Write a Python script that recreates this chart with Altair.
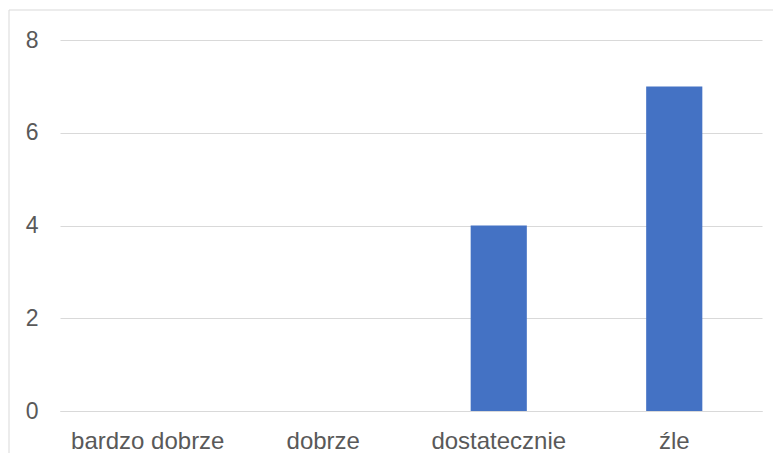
import altair as alt
import pandas as pd

categories = ["bardzo dobrze", "dobrze", "dostatecznie", "źle"]
values = [0, 0, 4, 7]
y_ticks = [0, 2, 4, 6, 8]

df = pd.DataFrame({"kategoria": categories, "wartosc": values})

FONT = "Liberation Sans"
TXT = "#595959"
GRID = "#d9d9d9"

bars = alt.Chart(df).mark_bar(color="#4472c4").encode(
    x=alt.X(
        "kategoria:N",
        sort=categories,
        scale=alt.Scale(paddingInner=0.68, paddingOuter=0.34),
        axis=alt.Axis(
            title=None, labelAngle=0, ticks=False, domain=True, domainColor=GRID,
            labelFontSize=24, labelColor=TXT, labelFont=FONT, labelPadding=18, grid=False,
        ),
    ),
    y=alt.Y(
        "wartosc:Q",
        scale=alt.Scale(domain=[0, 8], nice=False),
        axis=alt.Axis(
            title=None, values=y_ticks, ticks=False, domain=False, grid=True,
            gridColor=GRID, gridWidth=1, labelFontSize=23, labelColor=TXT,
            labelFont=FONT, labelPadding=22,
        ),
    ),
)

border = alt.Chart(alt.Data(values=[{"a": 1}])).mark_rect(
    fill="transparent", stroke=GRID, strokeWidth=1
).encode(
    x=alt.value(-51), x2=alt.value(760), y=alt.value(-30), y2=alt.value(460)
)

chart = alt.layer(border, bars).properties(
    width=702,
    height=371,
    padding={"left": 52, "top": 32, "right": 11, "bottom": 42},
    autosize=alt.AutoSizeParams(type="none"),
    background="white",
).configure_view(stroke=None)

chart.save("out.html", embed_options={"renderer": "svg", "actions": False})
